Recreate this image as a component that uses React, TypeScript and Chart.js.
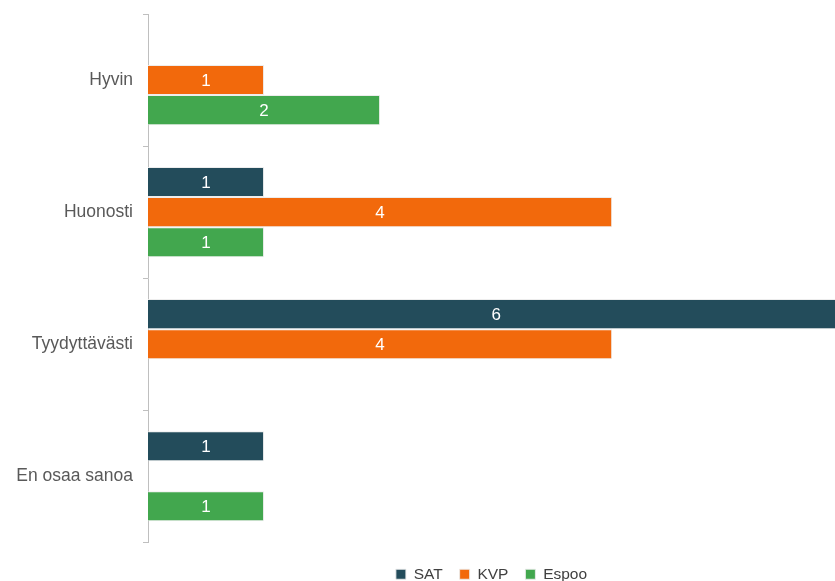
import React, { useEffect, useRef } from "react";
import { Chart, registerables } from "chart.js";

Chart.register(...registerables);

const categories = ["Hyvin", "Huonosti", "Tyydyttävästi", "En osaa sanoa"];
const seriesNames = ["SAT", "KVP", "Espoo"];
const satValues = [null, 1, 6, 1];
const kvpValues = [1, 4, 4, null];
const espooValues = [2, 1, null, 1];
const seriesColors = ["#234c5b", "#f2690c", "#42a74e"];

const FONT = "Arial, 'Liberation Sans', sans-serif";

const valueLabels = {
  id: "valueLabels",
  afterDatasetsDraw(chart: any) {
    const ctx = chart.ctx;
    const a = chart.chartArea;
    ctx.save();
    ctx.beginPath();
    ctx.rect(a.left, a.top, a.right - a.left, a.bottom - a.top);
    ctx.clip();
    ctx.fillStyle = "#ffffff";
    ctx.font = "17px " + FONT;
    ctx.textAlign = "center";
    ctx.textBaseline = "middle";
    chart.data.datasets.forEach((ds: any, i: number) => {
      const meta = chart.getDatasetMeta(i);
      meta.data.forEach((el: any, j: number) => {
        const v = ds.data[j];
        if (v === null || v === undefined) return;
        const cx = (el.x + el.base) / 2;
        ctx.fillText(String(v), cx, el.y + 1);
      });
    });
    ctx.restore();
  },
};

export default function App() {
  const ref = useRef<HTMLCanvasElement>(null);
  useEffect(() => {
    if (!ref.current) return;
    const data = [satValues, kvpValues, espooValues];
    const chart = new Chart(ref.current, {
      type: "bar",
      data: {
        labels: categories,
        datasets: seriesNames.map((name, i) => ({
          label: name,
          data: data[i] as any,
          backgroundColor: seriesColors[i],
          borderColor: "rgba(235,235,235,0.9)",
          borderWidth: 1,
          categoryPercentage: 0.683,
          barPercentage: 1,
        })),
      },
      options: {
        indexAxis: "y",
        animation: false,
        responsive: false,
        maintainAspectRatio: false,
        layout: { padding: { left: 0, right: 0, top: 14, bottom: 0 } },
        plugins: {
          tooltip: { enabled: false },
          legend: {
            position: "bottom",
            fullSize: false,
            title: { display: true, text: " ", font: { size: 1 }, padding: { top: 6, bottom: 0 } },
            labels: {
              boxWidth: 10,
              boxHeight: 10,
              padding: 17,
              color: "#404040",
              font: { family: FONT, size: 15.5 },
            },
          },
        },
        scales: {
          x: { display: false, min: 0, max: 5.92 },
          y: {
            afterFit(scale: any) {
              scale.width = 148;
              scale.paddingTop = 0;
              scale.paddingBottom = 0;
            },
            grid: {
              display: true,
              drawOnChartArea: false,
              drawTicks: true,
              tickLength: 5,
              offset: true,
              color: "#bfbfbf",
            },
            border: { display: true, color: "#bfbfbf", width: 1 },
            ticks: {
              padding: 10,
              color: "#595959",
              font: { family: FONT, size: 17.5 },
            },
          },
        },
      },
      plugins: [valueLabels],
    });
    return () => chart.destroy();
  }, []);
  return (
    <div style={{ position: "fixed", left: 0, top: 0, width: 835, height: 581, overflow: "hidden", background: "#fff" }}>
      <canvas ref={ref} width={835} height={592} style={{ display: "block", width: 835, height: 592 }} />
    </div>
  );
}
